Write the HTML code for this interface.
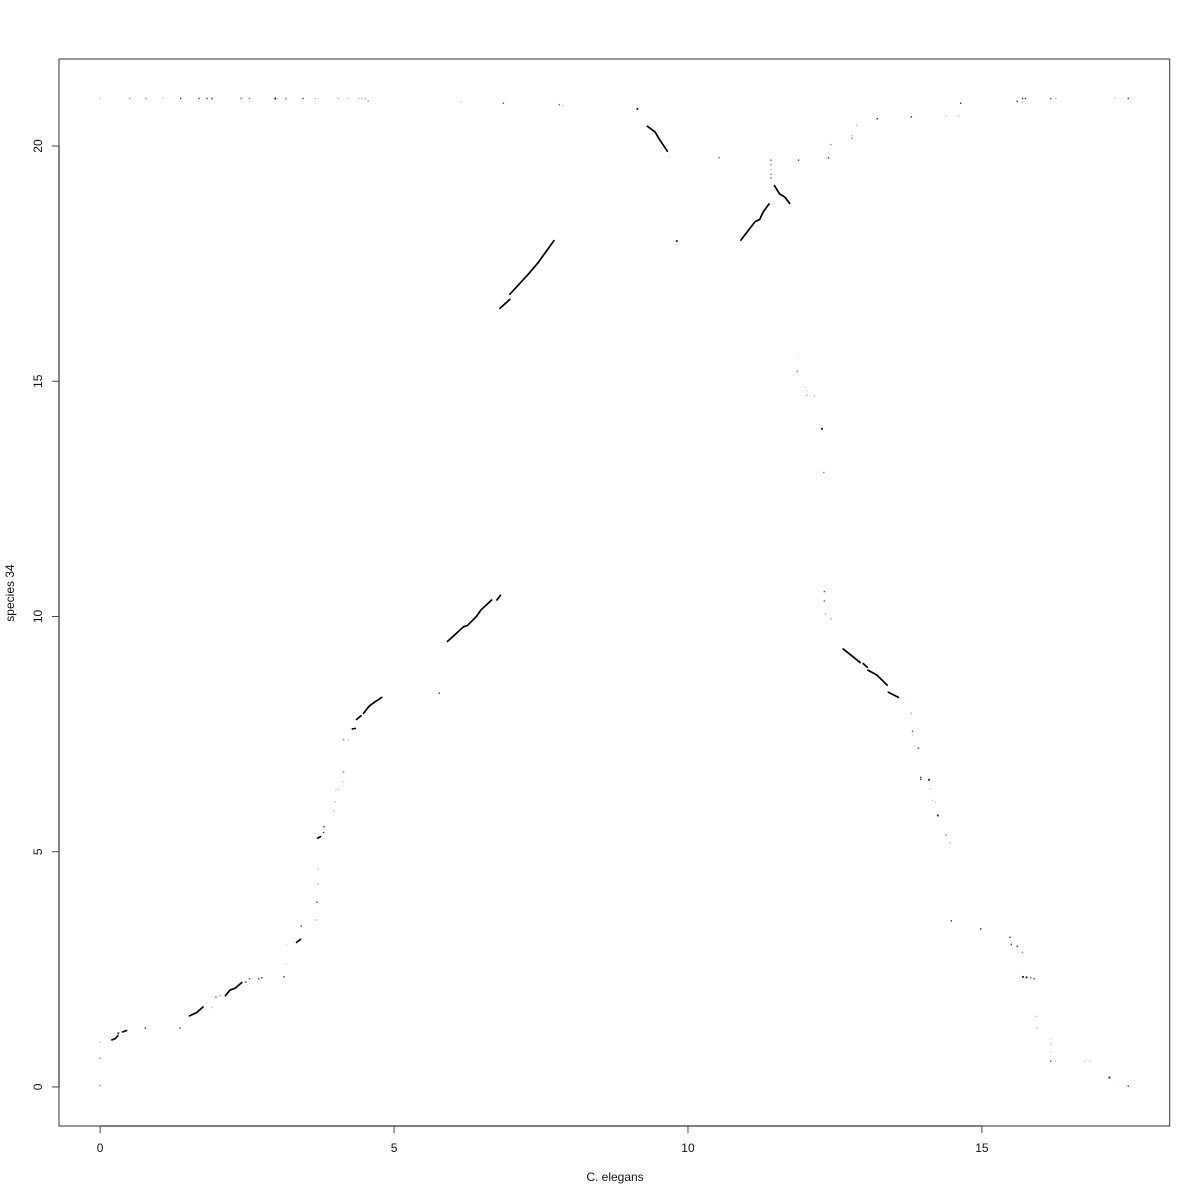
<!DOCTYPE html>
<html lang="en">
<head>
<meta charset="utf-8">
<title>Dot plot: C. elegans vs species 34</title>
<style>
  html, body { margin: 0; padding: 0; background: #fff; }
  body { width: 1200px; height: 1200px; overflow: hidden; }
  svg { display: block; }
  text { font-family: "Liberation Sans", sans-serif; font-size: 12px; fill: #111; }
</style>
</head>
<body>
<svg id="chart" xmlns="http://www.w3.org/2000/svg" width="1200" height="1200" viewBox="0 0 1200 1200">
  <rect x="0" y="0" width="1200" height="1200" fill="#fff"/>
  <g id="box" stroke="#333" fill="none">
    <line x1="59" y1="59" x2="1170" y2="59" stroke-width="1"/>
    <line x1="1169.7" y1="59" x2="1169.7" y2="1126.5" stroke-width="1"/>
    <line x1="59" y1="59" x2="59" y2="1126.5" stroke-width="1"/>
    <line x1="59" y1="1126" x2="1170" y2="1126" stroke-width="1"/>
  </g>
  <g id="x-axis"></g>
  <g id="y-axis"></g>
  <g id="marks"></g>
  <text x="615" y="1181" text-anchor="middle">C. elegans</text>
  <text x="14" y="593" text-anchor="middle" transform="rotate(-90 14 593)">species 34</text>
</svg>
<script>
// Axis tick labels (chart units)
const xTicks = [0, 5, 10, 15];
const yTicks = [0, 5, 10, 15, 20];

// Axis domain (chart units)
const xDomain = [-0.7, 18.2];
const yDomain = [-0.83, 21.85];

// Collinear alignment blocks, as [C. elegans position, species 34 position]
const blockLeftArm = [
  [[0.20,1.00],[0.26,1.03],[0.30,1.09]],
  [[0.38,1.17],[0.45,1.20]],
  [[1.52,1.51],[1.64,1.58],[1.75,1.70]],
  [[2.13,1.94],[2.21,2.06],[2.30,2.10],[2.41,2.22]],
  [[3.34,3.07],[3.41,3.14]],
  [[3.70,5.29],[3.75,5.32]],
  [[4.29,7.61],[4.34,7.62]],
  [[4.36,7.81],[4.44,7.89]],
  [[4.48,7.94],[4.58,8.10],[4.68,8.19],[4.79,8.28]],
  [[5.91,9.47],[6.18,9.78],[6.25,9.81],[6.40,10.00],[6.48,10.14],[6.66,10.35]],
  [[6.75,10.35],[6.81,10.45]]
];
const blockUpperArm = [
  [[6.80,16.55],[6.97,16.74]],
  [[6.97,16.85],[7.28,17.27],[7.45,17.52],[7.72,17.99]],
  [[9.31,20.42],[9.44,20.30],[9.52,20.13],[9.65,19.89]],
  [[10.90,18.00],[11.14,18.39],[11.22,18.44],[11.28,18.60],[11.38,18.77]],
  [[11.47,19.16],[11.56,18.98],[11.65,18.91],[11.73,18.78]]
];
const blockRightArm = [
  [[12.64,9.31],[12.93,9.02]],
  [[12.98,9.00],[13.05,8.92]],
  [[13.06,8.86],[13.21,8.76],[13.39,8.54]],
  [[13.41,8.39],[13.58,8.28]]
];

// Individual hits, as [C. elegans position, species 34 position, match score 0-1]
const hitsLeftArm = [
  [0,0.03,0.5],[0,0.61,0.5],[0,0.95,0.2],[0.31,1.14,0.9],[0.77,1.25,0.8],[1.36,1.25,0.7],
  [1.90,1.69,0.25],[1.97,1.91,0.6],[2.04,1.94,0.4],[2.48,2.23,0.8],[2.54,2.30,0.7],
  [2.70,2.30,0.8],[2.75,2.32,0.8],[3.13,2.34,0.8],[3.16,2.61,0.2],[3.17,3.01,0.2],
  [3.42,3.42,0.8],[3.67,3.55,0.3],[3.69,3.93,0.8],[3.71,4.31,0.3],[3.71,4.63,0.25],
  [3.80,5.41,0.8],[3.81,5.53,0.8],[3.97,5.87,0.3],[4.00,6.06,0.3],[4.01,6.30,0.25],
  [4.05,6.33,0.25],[4.14,6.48,0.2],[4.14,6.69,0.5],[4.14,7.38,0.5],[4.22,7.38,0.2],
  [5.77,8.37,0.8]
];
const hitsUpperArm = [
  [9.14,20.79,1],[9.68,19.77,0.2],[9.81,17.98,0.9],[10.53,19.75,0.6],
  [11.41,19.70,0.6],[11.41,19.60,0.4],[11.41,19.50,0.3],[11.41,19.40,0.5],[11.41,19.32,0.6],
  [11.88,19.70,0.8],[12.39,19.75,0.8],[12.43,20.03,0.5],[12.79,20.22,0.3],[12.79,20.16,0.5],
  [12.87,20.44,0.3],[13.22,20.58,0.8],[13.80,20.62,0.8],[14.39,20.63,0.25],[14.60,20.63,0.25]
];
const hitsRightArm = [
  [11.86,15.50,0.12],[11.86,15.21,0.6],[12.00,14.87,0.15],[12.02,14.80,0.15],[12.02,14.70,0.35],
  [12.15,14.68,0.3],[12.28,13.99,1],[12.31,13.06,0.5],[12.32,10.53,0.7],[12.32,10.33,0.6],
  [12.34,10.05,0.3],[12.43,9.95,0.4],[13.67,8.27,0.15],[13.80,7.94,0.35],[13.82,7.56,0.7],
  [13.82,7.47,0.2],[13.85,7.25,0.2],[13.92,7.20,0.8],[13.96,6.58,0.7],[13.96,6.54,0.8],
  [14.10,6.53,0.9],[14.12,6.34,0.25],[14.16,6.09,0.2],[14.21,6.05,0.2],[14.25,5.77,0.9],
  [14.39,5.35,0.5],[14.46,5.19,0.3],[14.48,3.53,0.8],[14.98,3.36,0.8],[15.48,3.18,0.8],
  [15.50,3.03,0.8],[15.60,2.99,0.8],[15.69,2.86,0.5],[15.70,2.34,0.9],[15.76,2.33,0.9],
  [15.83,2.32,0.7],[15.89,2.30,0.8],[15.93,1.50,0.25],[15.93,1.25,0.25],[16.17,1.01,0.15],
  [16.17,0.93,0.15],[16.17,0.89,0.15],[16.17,0.75,0.15],[16.17,0.55,0.7],[16.25,0.55,0.2],
  [16.75,0.55,0.2],[16.84,0.55,0.2],[17.17,0.20,0.9],[17.26,0.04,0.15],[17.49,0.015,0.8]
];
const hitsTopRow = [
  [0,21.01,0.25],[0.50,21.01,0.5],[0.78,21.01,0.5],[1.07,21.01,0.2],[1.37,21.01,0.7],
  [1.68,21.01,0.8],[1.82,21.01,0.8],[1.90,21.01,0.8],[2.40,21.01,0.6],[2.54,21.01,0.6],
  [2.98,21.01,0.9],[3.02,21.01,0.2],[3.16,21.01,0.6],[3.45,21.01,0.7],[3.66,21.01,0.3],
  [3.71,21.01,0.2],[4.05,21.01,0.3],[4.22,21.01,0.2],[4.40,21.01,0.3],[4.45,21.01,0.3],
  [4.51,21.01,0.3],[4.56,20.96,0.4],[6.14,20.93,0.2],[6.86,20.91,0.7],[7.81,20.88,0.6],
  [7.87,20.86,0.2],[14.64,20.91,0.8],[15.60,20.95,0.8],[15.69,21.01,0.8],[15.69,20.93,0.3],
  [15.74,21.01,0.8],[16.17,21.01,0.7],[16.26,21.01,0.3],[17.26,21.01,0.2],[17.49,21.01,0.8]
];

const SVG_NS = 'http://www.w3.org/2000/svg';
const plotLeft = 59, plotRight = 1170, plotTop = 59, plotBottom = 1126;

function xScale(v) {
  return plotLeft + (v - xDomain[0]) / (xDomain[1] - xDomain[0]) * (plotRight - plotLeft);
}
function yScale(v) {
  return plotBottom - (v - yDomain[0]) / (yDomain[1] - yDomain[0]) * (plotBottom - plotTop);
}
function make(tag, attrs, parent) {
  const el = document.createElementNS(SVG_NS, tag);
  Object.keys(attrs).forEach(function (k) { el.setAttribute(k, attrs[k]); });
  parent.appendChild(el);
  return el;
}

const xAxisGroup = document.getElementById('x-axis');
const yAxisGroup = document.getElementById('y-axis');
const marksGroup = document.getElementById('marks');

const xAxisLine = make('line', { x1: xScale(xTicks[0]), x2: xScale(xTicks[xTicks.length - 1]), y1: plotBottom, y2: plotBottom, stroke: '#000', 'stroke-width': 1 }, xAxisGroup);



xTicks.forEach(function (t) {
  const tick = make('line', { x1: xScale(t), x2: xScale(t), y1: plotBottom, y2: plotBottom + 7, stroke: '#444', 'stroke-width': 1 }, xAxisGroup);
  
  
  const label = make('text', { x: xScale(t), y: plotBottom + 26, 'text-anchor': 'middle' }, xAxisGroup);
  
  
  label.textContent = String(t);
});

const yAxisLine = make('line', { x1: plotLeft, x2: plotLeft, y1: yScale(yTicks[0]), y2: yScale(yTicks[yTicks.length - 1]), stroke: '#000', 'stroke-width': 1 }, yAxisGroup);



yTicks.forEach(function (t) {
  const tick = make('line', { x1: plotLeft - 7, x2: plotLeft, y1: yScale(t), y2: yScale(t), stroke: '#444', 'stroke-width': 1 }, yAxisGroup);
  
  
  const lx = plotLeft - 17;
  const label = make('text', { x: lx, y: yScale(t), 'text-anchor': 'middle', transform: 'rotate(-90 ' + lx + ' ' + yScale(t) + ')' }, yAxisGroup);
  
  
  label.textContent = String(t);
});

[blockLeftArm, blockUpperArm, blockRightArm].forEach(function (blocks) {
  blocks.forEach(function (block) {
    const pts = block.map(function (p) { return xScale(p[0]).toFixed(2) + ',' + yScale(p[1]).toFixed(2); }).join(' ');
    const line = make('polyline', { points: pts, fill: 'none', stroke: '#000', 'stroke-width': 1.7, 'stroke-linecap': 'round', 'stroke-linejoin': 'round' }, marksGroup);
    
    
  });
});

[hitsLeftArm, hitsUpperArm, hitsRightArm, hitsTopRow].forEach(function (hits) {
  hits.forEach(function (h) {
    const size = h[2] > 0.85 ? 1.8 : 1.4;
    const grey = Math.round(255 * (1 - h[2]));
    const dot = make('rect', { x: xScale(h[0]) - size / 2, y: yScale(h[1]) - size / 2, width: size, height: size, fill: 'rgb(' + grey + ',' + grey + ',' + grey + ')' }, marksGroup);
    
    
  });
});
</script>
</body>
</html>
